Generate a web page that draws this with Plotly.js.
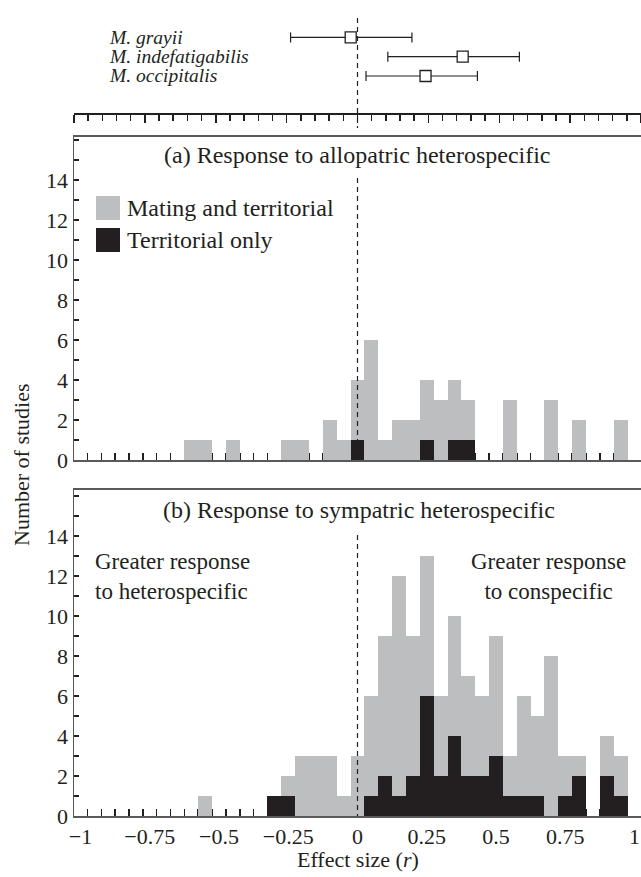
<!DOCTYPE html>
<html><head><meta charset="utf-8">
<script src="https://cdn.plot.ly/plotly-3.0.1.min.js"></script>
<style>body{margin:0;background:#fff}#chart{width:641px;height:877px}</style>
</head><body><div id="chart"></div>
<script>
// ---- data ----
// Panel (a): response to allopatric heterospecific (bin centres, bin width 0.05)
const binsA = [-0.6, -0.55, -0.45, -0.25, -0.2, -0.1, -0.05, 0, 0.05, 0.1, 0.15, 0.2, 0.25, 0.3, 0.35, 0.4, 0.55, 0.7, 0.8, 0.95];
const territorialA = [0, 0, 0, 0, 0, 0, 0, 1, 0, 0, 0, 0, 1, 0, 1, 1, 0, 0, 0, 0];
const matingA      = [1, 1, 1, 1, 1, 2, 1, 3, 6, 1, 2, 2, 3, 3, 3, 2, 3, 3, 2, 2];
// Panel (b): response to sympatric heterospecific
const binsB = [-0.55, -0.3, -0.25, -0.2, -0.15, -0.1, -0.05, 0, 0.05, 0.1, 0.15, 0.2, 0.25, 0.3, 0.35, 0.4, 0.45, 0.5, 0.55, 0.6, 0.65, 0.7, 0.75, 0.8, 0.9, 0.95];
const territorialB = [0, 1, 1, 0, 0, 0, 0, 0, 1, 2, 1, 2, 6, 2, 4, 2, 2, 3, 1, 1, 1, 0, 1, 2, 2, 1];
const matingB      = [1, 0, 1, 3, 3, 3, 1, 3, 5, 7, 11, 7, 7, 4, 6, 5, 4, 6, 2, 5, 4, 8, 2, 1, 2, 2];
// Top panel: species mean effect sizes with intervals
const species = ['M. grayii', 'M. indefatigabilis', 'M. occipitalis'];
const speciesRow = [3, 2, 1];
const speciesMean  = [-0.024, 0.371, 0.240];
const speciesLower = [-0.236, 0.107, 0.030];
const speciesUpper = [0.192, 0.571, 0.423];
// Axis tick labels
const xTickVals = [-1, -0.75, -0.5, -0.25, 0, 0.25, 0.5, 0.75, 1];
const xTickText = ['\u22121', '\u22120.75', '\u22120.5', '\u22120.25', '0', '0.25', '0.5', '0.75', '1'];
const yTickVals = [0, 2, 4, 6, 8, 10, 12, 14];
const legendNames = ['Mating and territorial', 'Territorial only'];

// ---- style ----
const FONT = '"Liberation Serif", "Times New Roman", serif';
const INK = '#231f20';
const GRAY = '#bcbec0';
const FRAME = '#58595b';
const W = 641, H = 877;
const px = v => v / W;
const py = v => 1 - v / H;

const traces = [
  {type: 'bar', x: binsA, y: territorialA, width: 0.05, marker: {color: INK, line: {width: 0}}, xaxis: 'x2', yaxis: 'y2', name: legendNames[1], hoverinfo: 'skip'},
  {type: 'bar', x: binsA, y: matingA, width: 0.05, marker: {color: GRAY, line: {width: 0}}, xaxis: 'x2', yaxis: 'y2', name: legendNames[0], hoverinfo: 'skip'},
  {type: 'bar', x: binsB, y: territorialB, width: 0.05, marker: {color: INK, line: {width: 0}}, xaxis: 'x', yaxis: 'y', name: legendNames[1], hoverinfo: 'skip'},
  {type: 'bar', x: binsB, y: matingB, width: 0.05, marker: {color: GRAY, line: {width: 0}}, xaxis: 'x', yaxis: 'y', name: legendNames[0], hoverinfo: 'skip'},
  {type: 'scatter', mode: 'markers', x: speciesMean, y: speciesRow, xaxis: 'x3', yaxis: 'y3',
   error_x: {type: 'data', symmetric: false,
             array: speciesUpper.map((u, i) => u - speciesMean[i]),
             arrayminus: speciesLower.map((l, i) => speciesMean[i] - l),
             color: INK, thickness: 1.2, width: 5},
   marker: {symbol: 'square', size: 11, color: '#ffffff', line: {color: INK, width: 1.3}},
   hoverinfo: 'skip'}
];

const histX = {
  domain: [px(74), 1], range: [-1.0234, 1.0234], showgrid: false, zeroline: false,
  showline: true, linecolor: FRAME, linewidth: 1.5, mirror: true, layer: 'below traces',
  ticks: '', fixedrange: true,
  minor: {tick0: 0.025, dtick: 0.05, ticks: 'inside', ticklen: 7, tickwidth: 1.5, tickcolor: INK, showgrid: false}
};
const histY = {
  showgrid: false, zeroline: false, showline: true, linecolor: FRAME, linewidth: 1.5,
  tickvals: yTickVals, ticks: 'inside', ticklen: 5, tickwidth: 1.5, tickcolor: INK,
  tickfont: {family: FONT, size: 22, color: INK}, layer: 'below traces',
  minor: {dtick: 1, ticks: 'inside', ticklen: 5, tickwidth: 1.5, tickcolor: INK, showgrid: false}
};

const annotations = [];
function addText(text, x, y, size, xanchor, extra) {
  annotations.push(Object.assign({text: text, x: px(x), y: py(y), xref: 'paper', yref: 'paper',
    showarrow: false, xanchor: xanchor || 'center', yanchor: 'middle',
    font: {family: FONT, size: size, color: INK}}, extra || {}));
}
addText('(a) Response to allopatric heterospecific', 357.5, 155, 24);
addText('(b) Response to sympatric heterospecific', 358.5, 510, 24);
addText('Greater response<br>to heterospecific', 93, 576, 23, 'left', {align: 'left'});
addText('Greater response<br>to conspecific', 548, 576, 23, 'center', {align: 'center'});
addText(legendNames[0], 125, 208, 24, 'left');
addText(legendNames[1], 125, 240, 24, 'left');
addText('Effect size (<i>r</i>)', 357.5, 859, 22);
addText('Number of studies', 21, 465, 22, 'center', {textangle: -90});
species.forEach((s, i) => {
  annotations.push({text: '<i>' + s + '</i>', x: px(107), y: speciesRow[i], xref: 'paper', yref: 'y3',
    showarrow: false, xanchor: 'left', yanchor: 'middle', font: {family: FONT, size: 19.5, color: INK}});
});

const dash = {color: INK, width: 1.2, dash: '5px,4px'};
const shapes = [
  {type: 'line', xref: 'x3', yref: 'paper', x0: 0, x1: 0, y0: py(18), y1: py(128), line: dash, layer: 'above'},
  {type: 'line', xref: 'x2', yref: 'paper', x0: 0, x1: 0, y0: py(178), y1: py(460), line: dash, layer: 'above'},
  {type: 'line', xref: 'x', yref: 'paper', x0: 0, x1: 0, y0: py(535), y1: py(816), line: dash, layer: 'above'},
  {type: 'rect', xref: 'paper', yref: 'paper', x0: px(96), x1: px(120), y0: py(220), y1: py(196), fillcolor: GRAY, line: {width: 0}},
  {type: 'rect', xref: 'paper', yref: 'paper', x0: px(96), x1: px(120), y0: py(252), y1: py(228), fillcolor: INK, line: {width: 0}}
];

const layout = {
  width: W, height: H, margin: {l: 0, r: 0, t: 0, b: 0}, paper_bgcolor: '#fff', plot_bgcolor: 'rgba(0,0,0,0)',
  showlegend: false, barmode: 'stack', bargap: 0,
  font: {family: FONT, color: INK},
  xaxis: Object.assign({}, histX, {anchor: 'y', tickvals: xTickVals, ticktext: xTickText,
    showticklabels: true, tickfont: {family: FONT, size: 22, color: INK}}),
  yaxis: Object.assign({}, histY, {domain: [py(816), py(489.5)], range: [0, 16.325], anchor: 'x'}),
  xaxis2: Object.assign({}, histX, {anchor: 'y2', showticklabels: false}),
  yaxis2: Object.assign({}, histY, {domain: [py(460), py(136.7)], range: [0, 16.165], anchor: 'x2'}),
  xaxis3: {domain: [px(74), 1], range: [-1, 1], anchor: 'y3', showgrid: false, zeroline: false,
    showline: true, linecolor: INK, linewidth: 2, ticks: 'outside', tick0: 0, dtick: 0.25, ticklen: 8,
    tickwidth: 1.5, tickcolor: INK, showticklabels: false,
    minor: {dtick: 0.05, ticks: 'outside', ticklen: 6, tickwidth: 1.5, tickcolor: INK, showgrid: false}},
  yaxis3: {domain: [py(113), py(15)], range: [-0.917, 4.16], anchor: 'x3', visible: false},
  annotations: annotations,
  shapes: shapes
};

Plotly.newPlot('chart', traces, layout, {staticPlot: true, displayModeBar: false});
</script></body></html>
